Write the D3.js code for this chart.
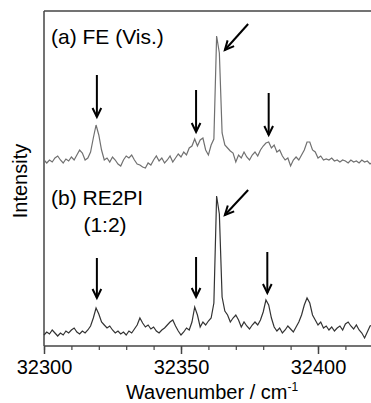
<!DOCTYPE html>
<html>
<head>
<meta charset="utf-8">
<script src="https://d3js.org/d3.v7.min.js"></script>
<style>
  body { margin: 0; background: #fff; }
  text { font-family: Arial, "Liberation Sans", sans-serif; fill: #000; }
</style>
</head>
<body>
<svg width="371" height="403"></svg>
<script>
// wavenumber grid (cm-1), one point per cm-1
const wavenumbers = d3.range(32300, 32421, 1);

// (a) FE (Vis.) spectrum, arbitrary units above its own baseline
const feVis = [
  0.3, 0.0, 0.3, 0.1, 0.5, 0.7, 0.3, 0.0, 0.4, 0.2,
  0.6, 0.3, 0.8, 1.3, 1.0, 0.3, 0.5, 1.1, 2.5, 3.8,
  2.8, 1.3, 0.3, 0.5, 0.1, 0.6, 0.3, -0.1, -0.3, 0.3,
  0.7, 0.5, 0.8, 0.3, -0.1, -0.2, -0.4, -0.5, 0.0, -0.2,
  0.3, 0.7, 0.2, 0.5, 0.0, 0.3, 0.7, 0.1, 0.5, 0.9,
  0.6, 1.1, 0.8, 1.5, 1.7, 2.4, 1.7, 2.3, 2.5, 1.3,
  0.8, 1.8, 2.4, 12.7, 11.0, 3.0, 1.8, 1.5, 1.2, 1.0,
  0.1, 0.8, 0.5, 1.1, 0.6, 0.3, 0.8, 1.1, 0.7, 1.3,
  1.7, 2.0, 2.1, 1.5, 1.8, 1.1, 1.3, 0.7, 0.3, 0.5,
  -0.3, 0.3, 0.6, 0.3, 0.8, 1.3, 2.1, 2.1, 1.3, 1.1,
  0.5, 0.7, 0.3, 0.4, 0.3, 0.5, 0.2, 0.3, 0.1, 0.3,
  0.2, 0.0, 0.3, 0.1, 0.2, 0.0, 0.3, 0.1, 0.2, -0.1,
  0.1
];

// (b) RE2PI (1:2) spectrum
const re2pi = [
  0.2, 0.5, 0.3, 0.7, 0.4, 0.1, 0.4, 0.2, 0.6, 0.4,
  0.7, 0.9, 0.5, 0.3, 0.6, 0.4, 0.7, 1.1, 1.9, 2.9,
  2.3, 1.5, 1.2, 0.9, 1.1, 0.7, 0.4, 0.6, 0.3, 0.5,
  0.2, 0.6, 0.4, 0.8, 1.2, 1.9, 1.4, 1.0, 1.2, 0.8,
  1.0, 0.6, 0.4, 0.7, 0.9, 1.2, 1.5, 1.7, 1.1, 0.6,
  0.2, 0.5, 0.9, 0.7, 1.5, 3.0, 2.2, 1.0, 1.5, 1.2,
  1.6, 1.9, 3.4, 14.1, 12.3, 4.0, 2.6, 2.2, 1.5, 1.9,
  2.2, 1.7, 1.0, 1.5, 1.1, 0.8, 1.2, 1.5, 1.2, 1.7,
  2.5, 3.7, 3.2, 1.9, 1.0, 0.6, 0.9, 0.4, 0.7, 1.1,
  0.8, 0.5, 1.0, 1.5, 2.2, 3.2, 3.9, 3.4, 2.2, 1.7,
  1.2, 1.5, 0.9, 1.1, 0.7, 1.0, 0.6, 0.9, 1.1, 0.7,
  1.3, 1.5, 1.1, 0.8, 1.2, 0.7, 0.4, -0.1, 0.5, 1.1,
  1.2
];

// vertical offsets of the two traces
const feOffset = 18.3;
const re2piOffset = 0.9;

const majorTicks = [32300, 32350, 32400];
const minorTicks = d3.range(32300, 32421, 10);

// arrows: tail (x0,y0) -> tip (x1,y1), in wavenumber / intensity units
const arrows = [
  {x0: 32319.3, y0: 27.1, x1: 32319.3, y1: 22.9},
  {x0: 32355.5, y0: 25.6, x1: 32355.5, y1: 21.4},
  {x0: 32382.0, y0: 25.3, x1: 32382.0, y1: 21.1},
  {x0: 32374.5, y0: 32.2, x1: 32366.0, y1: 29.6},
  {x0: 32319.3, y0: 8.8, x1: 32319.3, y1: 4.8},
  {x0: 32355.5, y0: 8.9, x1: 32355.5, y1: 4.9},
  {x0: 32381.5, y0: 9.4, x1: 32381.5, y1: 5.3},
  {x0: 32374.5, y0: 15.6, x1: 32366.0, y1: 13.1}
];

const svg = d3.select("svg");

const x = d3.scaleLinear().domain([32300, 32400]).range([44, 318]);
const y = d3.scaleLinear().domain([0, 33.5]).range([346, 11]);

// frame: top and left lines
svg.append("line")
  .attr("x1", 44).attr("x2", 371).attr("y1", 11).attr("y2", 11)
  .attr("stroke", "#444").attr("stroke-width", 1.5);
svg.append("line")
  .attr("x1", 44).attr("x2", 44).attr("y1", 11).attr("y2", 346)
  .attr("stroke", "#444").attr("stroke-width", 1.5);

// bottom axis: minor ticks, then major ticks with labels
svg.append("g")
  .attr("transform", "translate(0,346)")
  .call(d3.axisBottom(x).tickValues(minorTicks).tickSize(4).tickFormat(""))
  .call(g => g.select(".domain").remove())
  .call(g => g.selectAll("line").attr("stroke", "#444").attr("stroke-width", 1.2));

svg.append("g")
  .attr("transform", "translate(0,346)")
  .call(d3.axisBottom(x).tickValues(majorTicks).tickSize(8).tickPadding(6).tickFormat(d3.format("d")))
  .call(g => g.select(".domain").remove())
  .call(g => g.selectAll("line").attr("stroke", "#444").attr("stroke-width", 1.5))
  .call(g => g.selectAll("text").attr("font-size", 20).attr("font-family", "Arial, 'Liberation Sans', sans-serif").attr("fill", "#000"));

svg.append("line")
  .attr("x1", 44).attr("x2", 371).attr("y1", 346).attr("y2", 346)
  .attr("stroke", "#444").attr("stroke-width", 1.5);

// spectra
const lineA = d3.line()
  .x((d, i) => x(wavenumbers[i]))
  .y(d => y(d + feOffset));
const lineB = d3.line()
  .x((d, i) => x(wavenumbers[i]))
  .y(d => y(d + re2piOffset));

svg.append("path")
  .datum(feVis)
  .attr("d", lineA)
  .attr("fill", "none")
  .attr("stroke", "#707070")
  .attr("stroke-width", 1.2);

svg.append("path")
  .datum(re2pi)
  .attr("d", lineB)
  .attr("fill", "none")
  .attr("stroke", "#333")
  .attr("stroke-width", 1.2);

// arrows
const head = 10, spread = 0.45;
arrows.forEach(a => {
  const tx = x(a.x0), ty = y(a.y0), px = x(a.x1), py = y(a.y1);
  const ang = Math.atan2(py - ty, px - tx);
  svg.append("line")
    .attr("x1", tx).attr("y1", ty).attr("x2", px).attr("y2", py)
    .attr("stroke", "#000").attr("stroke-width", 2);
  const p1 = [px - head * Math.cos(ang - spread), py - head * Math.sin(ang - spread)];
  const p2 = [px - head * Math.cos(ang + spread), py - head * Math.sin(ang + spread)];
  svg.append("path")
    .attr("d", `M${p1[0]},${p1[1]}L${px},${py}L${p2[0]},${p2[1]}`)
    .attr("fill", "none").attr("stroke", "#000").attr("stroke-width", 2);
});

// labels
svg.append("text").attr("x", 51).attr("y", 44).attr("font-size", 21).text("(a) FE (Vis.)");
svg.append("text").attr("x", 51).attr("y", 205).attr("font-size", 21).text("(b) RE2PI");
svg.append("text").attr("x", 105).attr("y", 232).attr("font-size", 21)
  .attr("text-anchor", "middle").text("(1:2)");

svg.append("text")
  .attr("transform", "translate(27,181) rotate(-90)")
  .attr("text-anchor", "middle").attr("font-size", 20)
  .text("Intensity");

const xt = svg.append("text")
  .attr("x", 212).attr("y", 399).attr("text-anchor", "middle").attr("font-size", 20);
xt.append("tspan").text("Wavenumber / cm");
xt.append("tspan").attr("font-size", 12).attr("dy", -8).text("-1");
</script>
</body>
</html>
